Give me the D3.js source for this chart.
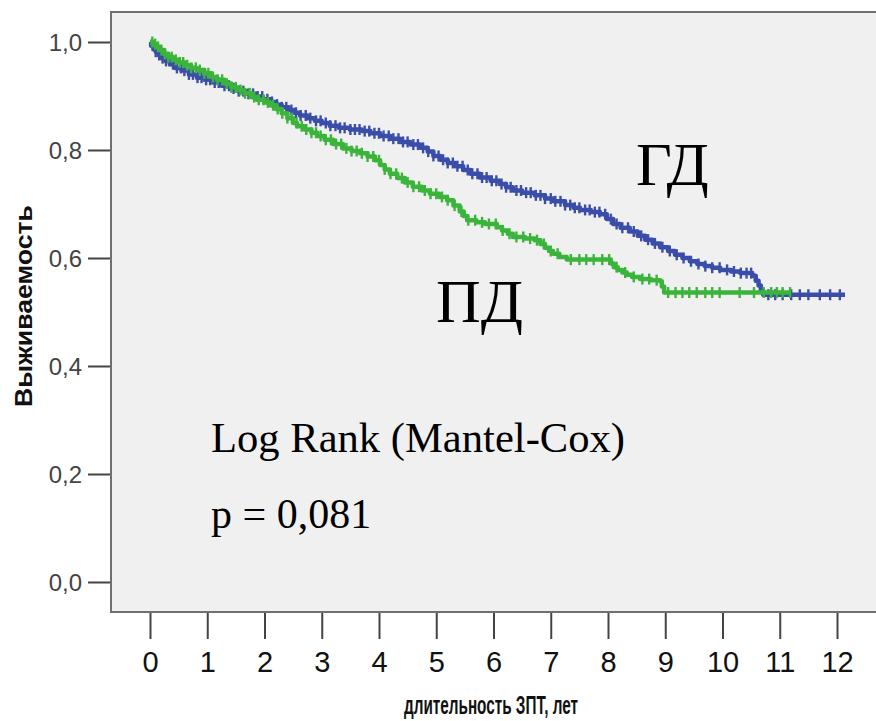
<!DOCTYPE html>
<html>
<head>
<meta charset="utf-8">
<script src="https://cdn.jsdelivr.net/npm/d3@7"></script>
<style>
  html, body { margin: 0; padding: 0; background: #ffffff; }
  svg { display: block; }
</style>
</head>
<body>
<svg id="chart" width="876" height="721"></svg>
<script>
// Kaplan–Meier survival: ГД vs ПД, steps as [years, survival]
const stepsGD = [
  [0, 1.0], [0.02, 0.993], [0.06, 0.987], [0.10, 0.982], [0.15, 0.976], [0.20, 0.970],
  [0.27, 0.965], [0.35, 0.959], [0.44, 0.952], [0.55, 0.947], [0.68, 0.940], [0.82, 0.934],
  [0.95, 0.930], [1.10, 0.925], [1.25, 0.919], [1.40, 0.914], [1.55, 0.909], [1.70, 0.904],
  [1.85, 0.899], [1.97, 0.894], [2.10, 0.889], [2.20, 0.884], [2.30, 0.879], [2.42, 0.874],
  [2.52, 0.869], [2.62, 0.864], [2.75, 0.859], [2.88, 0.854], [3.00, 0.850], [3.14, 0.845],
  [3.30, 0.841], [3.49, 0.838], [3.70, 0.835], [3.85, 0.831], [4.02, 0.826], [4.20, 0.821],
  [4.37, 0.815], [4.55, 0.810], [4.72, 0.804], [4.85, 0.797], [4.95, 0.789], [5.07, 0.782],
  [5.20, 0.776], [5.33, 0.770], [5.47, 0.763], [5.60, 0.756], [5.76, 0.749], [5.95, 0.743],
  [6.11, 0.737], [6.22, 0.731], [6.34, 0.725], [6.50, 0.721], [6.72, 0.716], [6.90, 0.710],
  [7.05, 0.705], [7.25, 0.698], [7.40, 0.693], [7.51, 0.689], [7.70, 0.685], [7.86, 0.681],
  [7.98, 0.672], [8.09, 0.663], [8.22, 0.656], [8.38, 0.649], [8.52, 0.641], [8.65, 0.634],
  [8.78, 0.627], [8.91, 0.620], [9.05, 0.613], [9.17, 0.606], [9.30, 0.600], [9.43, 0.594],
  [9.56, 0.589], [9.69, 0.585], [9.82, 0.582], [9.96, 0.578], [10.15, 0.575], [10.31, 0.572],
  [10.52, 0.567], [10.58, 0.558], [10.63, 0.549], [10.67, 0.540], [10.71, 0.532], [12.14, 0.532]
];
const stepsPD = [
  [0, 1.0], [0.05, 0.996], [0.10, 0.991], [0.17, 0.985], [0.25, 0.978], [0.32, 0.972],
  [0.40, 0.967], [0.50, 0.962], [0.62, 0.957], [0.72, 0.952], [0.82, 0.948], [0.95, 0.942],
  [1.07, 0.935], [1.17, 0.930], [1.30, 0.923], [1.42, 0.916], [1.52, 0.911], [1.65, 0.905],
  [1.77, 0.898], [1.87, 0.893], [2.00, 0.888], [2.10, 0.883], [2.20, 0.876], [2.30, 0.868],
  [2.40, 0.859], [2.50, 0.850], [2.57, 0.844], [2.70, 0.838], [2.82, 0.832], [2.92, 0.826],
  [3.05, 0.819], [3.20, 0.811], [3.37, 0.803], [3.52, 0.798], [3.67, 0.794], [3.80, 0.788],
  [3.93, 0.781], [4.02, 0.772], [4.10, 0.764], [4.19, 0.756], [4.32, 0.748], [4.45, 0.740],
  [4.59, 0.732], [4.75, 0.725], [4.89, 0.719], [5.05, 0.713], [5.19, 0.707], [5.30, 0.697],
  [5.41, 0.686], [5.48, 0.678], [5.54, 0.670], [5.70, 0.666], [5.85, 0.663], [6.06, 0.657],
  [6.15, 0.651], [6.25, 0.645], [6.34, 0.639], [6.55, 0.636], [6.72, 0.633], [6.82, 0.626],
  [6.90, 0.619], [6.97, 0.613], [7.04, 0.608], [7.15, 0.602], [7.28, 0.597], [8.05, 0.590],
  [8.10, 0.583], [8.17, 0.578], [8.25, 0.573], [8.33, 0.569], [8.42, 0.565], [8.56, 0.561],
  [8.75, 0.559], [8.91, 0.557], [8.94, 0.547], [8.98, 0.536], [11.18, 0.536]
];

// censored observations (years)
const censorGD = [
  0.05, 0.1, 0.16, 0.22, 0.28, 0.34, 0.4, 0.47, 0.54, 0.6, 0.68, 0.75, 0.83, 0.9, 0.98, 1.05,
  1.13, 1.2, 1.3, 1.38, 1.46, 1.55, 1.63, 1.72, 1.8, 1.88, 1.96, 2.05, 2.13, 2.22, 2.3, 2.38,
  2.47, 2.55, 2.63, 2.72, 2.8, 2.9, 2.98, 3.07, 3.15, 3.24, 3.32, 3.4, 3.5, 3.58, 3.66, 3.75,
  3.83, 3.92, 4.0, 4.08, 4.17, 4.25, 4.34, 4.42, 4.5, 4.6, 4.68, 4.77, 4.86, 4.95, 5.04, 5.12,
  5.2, 5.29, 5.37, 5.46, 5.55, 5.63, 5.72, 5.8, 5.88, 5.97, 6.05, 6.14, 6.22, 6.3, 6.4, 6.48,
  6.57, 6.65, 6.74, 6.82, 6.9, 7.0, 7.08, 7.17, 7.25, 7.34, 7.42, 7.5, 7.6, 7.68, 7.77, 7.85,
  7.95, 8.05, 8.15, 8.25, 8.35, 8.45, 8.58, 8.7, 8.82, 8.95, 9.08, 9.2, 9.32, 9.45, 9.58, 9.7,
  9.82, 9.95, 10.08, 10.2, 10.32, 10.42, 10.5, 10.8, 10.92, 11.05, 11.2, 11.35, 11.5, 11.7,
  11.88, 12.05
];
const censorPD = [
  0.04, 0.09, 0.14, 0.2, 0.26, 0.32, 0.38, 0.45, 0.52, 0.58, 0.65, 0.72, 0.8, 0.87, 0.95, 1.02,
  1.1, 1.18, 1.26, 1.34, 1.42, 1.5, 1.58, 1.66, 1.74, 1.82, 1.9, 1.98, 2.06, 2.15, 2.23, 2.31,
  2.4, 2.48, 2.56, 2.65, 2.73, 2.82, 2.9, 2.98, 3.07, 3.16, 3.25, 3.34, 3.43, 3.52, 3.61, 3.7,
  3.8, 3.9, 4.0, 4.1, 4.2, 4.3, 4.4, 4.5, 4.6, 4.7, 4.8, 4.9, 5.0, 5.1, 5.2, 5.32, 5.44, 5.56,
  5.68, 5.8, 5.92, 6.04, 6.16, 6.28, 6.4, 6.52, 6.64, 6.76, 6.88, 7.0, 7.12, 7.35, 7.5, 7.62,
  7.75, 7.9, 8.02, 8.15, 8.3, 8.45, 8.6, 8.72, 8.85, 9.05, 9.18, 9.3, 9.42, 9.55, 9.7, 9.82,
  9.95, 10.3, 10.55, 10.72, 10.85, 10.95, 11.05, 11.18
];

const xTicks = [0, 1, 2, 3, 4, 5, 6, 7, 8, 9, 10, 11, 12];
const yTicks = [0, 0.2, 0.4, 0.6, 0.8, 1.0];
const groupLabels = ["ГД", "ПД"];
const testLabels = ["Log Rank (Mantel-Cox)", "p = 0,081"];
const axisTitles = ["длительность ЗПТ, лет", "Выживаемость"];

const colorGD = "#3a4ea9";
const colorPD = "#3bb43b";

const svg = d3.select("#chart");
const frame = { left: 111, top: 12, bottom: 612, right: 880 };

const x = d3.scaleLinear().domain([0, 12]).range([150, 837]);
const y = d3.scaleLinear().domain([0, 1]).range([582, 42]);

// plot area
svg.append("rect")
  .attr("x", frame.left).attr("y", frame.top)
  .attr("width", frame.right - frame.left).attr("height", frame.bottom - frame.top)
  .attr("fill", "#f0f0f0");

svg.append("path")
  .attr("d", `M${frame.right},${frame.top}H${frame.left}V${frame.bottom}H${frame.right}`)
  .attr("fill", "none").attr("stroke", "#707070").attr("stroke-width", 2);

// y axis
const yAxis = d3.axisLeft(y).tickValues(yTicks).tickSize(22).tickPadding(6)
  .tickFormat(d => d3.format(".1f")(d).replace(".", ","));
const gy = svg.append("g").attr("transform", `translate(${frame.left - 1},0)`).call(yAxis);
gy.select(".domain").remove();
gy.selectAll(".tick line").attr("stroke", "#444").attr("stroke-width", 2);
gy.selectAll(".tick text")
  .attr("font-family", "Arial, 'Liberation Sans', sans-serif")
  .attr("font-size", 24).attr("fill", "#444").attr("dy", "0.36em");

// x axis
const xAxis = d3.axisBottom(x).tickValues(xTicks).tickSize(26).tickPadding(12)
  .tickFormat(d3.format("d"));
const gx = svg.append("g").attr("transform", `translate(0,${frame.bottom + 1})`).call(xAxis);
gx.select(".domain").remove();
gx.selectAll(".tick line").attr("stroke", "#444").attr("stroke-width", 2);
gx.selectAll(".tick text")
  .attr("font-family", "Arial, 'Liberation Sans', sans-serif")
  .attr("font-size", 29).attr("fill", "#111");

// axis titles
svg.append("text")
  .attr("x", 491).attr("y", 714)
  .attr("text-anchor", "middle")
  .attr("font-family", "Arial, 'Liberation Sans', sans-serif")
  .attr("font-weight", "bold").attr("font-size", 25)
  .attr("textLength", 174).attr("lengthAdjust", "spacingAndGlyphs")
  .attr("fill", "#111")
  .text(axisTitles[0]);

svg.append("text")
  .attr("transform", "translate(32,306) rotate(-90)")
  .attr("text-anchor", "middle")
  .attr("font-family", "Arial, 'Liberation Sans', sans-serif")
  .attr("font-weight", "bold").attr("font-size", 24)
  .attr("textLength", 202).attr("lengthAdjust", "spacingAndGlyphs")
  .attr("fill", "#111")
  .text(axisTitles[1]);

// survival curves with censoring marks
const line = d3.line().x(d => x(d[0])).y(d => y(d[1])).curve(d3.curveStepAfter);
const bis = d3.bisector(d => d[0]).right;
const survAt = (steps, t) => steps[Math.max(0, bis(steps, t) - 1)][1];

function drawCurve(steps, censor, color) {
  const g = svg.append("g");
  g.append("path").datum(steps)
    .attr("d", line).attr("fill", "none")
    .attr("stroke", color).attr("stroke-width", 4.5)
    .attr("stroke-linejoin", "round");
  g.selectAll("line.cens").data(censor).enter().append("line")
    .attr("class", "cens")
    .attr("x1", d => x(d)).attr("x2", d => x(d))
    .attr("y1", d => y(survAt(steps, d)) - 5.5)
    .attr("y2", d => y(survAt(steps, d)) + 5.5)
    .attr("stroke", color).attr("stroke-width", 2.4);
}
drawCurve(stepsGD, censorGD, colorGD);
drawCurve(stepsPD, censorPD, colorPD);

// annotations
const serif = "'Times New Roman', 'Liberation Serif', serif";
svg.append("text").attr("x", 636).attr("y", 185)
  .attr("font-family", serif).attr("font-size", 62).attr("fill", "#000")
  .text(groupLabels[0]);
svg.append("text").attr("x", 436).attr("y", 322)
  .attr("font-family", serif).attr("font-size", 62).attr("fill", "#000")
  .text(groupLabels[1]);
svg.append("text").attr("x", 211).attr("y", 452)
  .attr("font-family", serif).attr("font-size", 42).attr("fill", "#000")
  .attr("textLength", 414).attr("lengthAdjust", "spacingAndGlyphs")
  .text(testLabels[0]);
svg.append("text").attr("x", 211).attr("y", 528)
  .attr("font-family", serif).attr("font-size", 42).attr("fill", "#000")
  .text(testLabels[1]);
</script>
</body>
</html>
